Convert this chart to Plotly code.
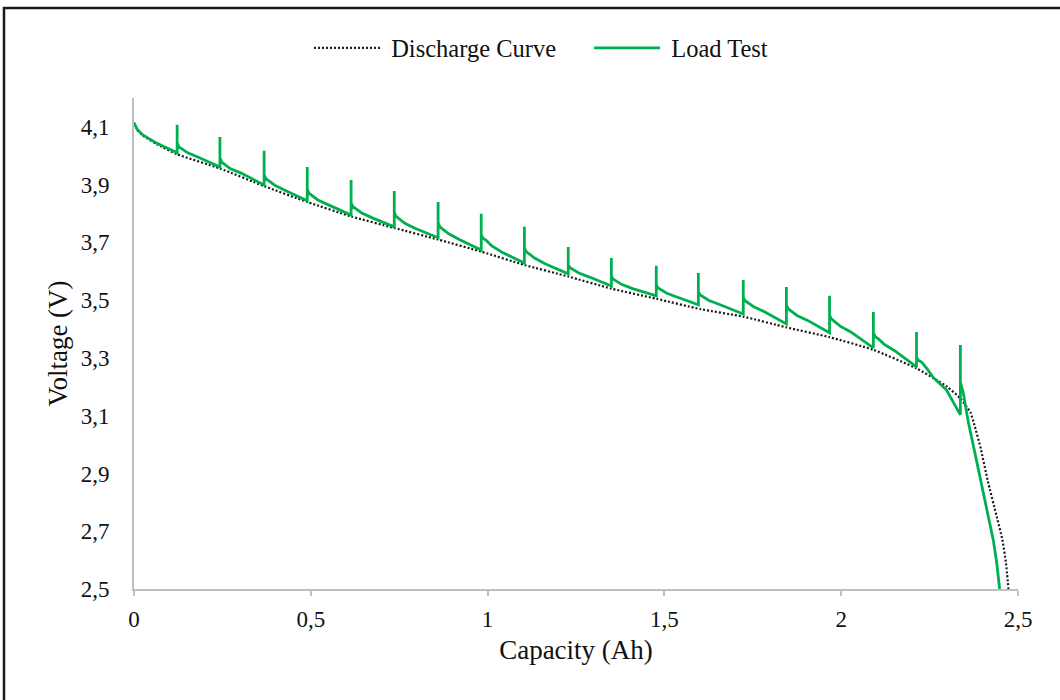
import plotly.graph_objects as go

# ---- data ----
discharge_x = [0.000, 0.010, 0.025, 0.065, 0.122, 0.243, 0.368, 0.490, 0.614, 0.736,
               0.860, 0.982, 1.104, 1.228, 1.350, 1.477, 1.602, 1.723, 1.845, 1.967,
               2.091, 2.213, 2.261, 2.300, 2.337, 2.366, 2.375, 2.395, 2.414, 2.440,
               2.456, 2.466, 2.473]
discharge_v = [4.114, 4.088, 4.070, 4.040, 4.005, 3.956, 3.895, 3.840, 3.790, 3.750,
               3.710, 3.668, 3.622, 3.582, 3.540, 3.505, 3.469, 3.443, 3.406, 3.372,
               3.328, 3.264, 3.230, 3.200, 3.160, 3.110, 3.075, 2.985, 2.877, 2.750,
               2.670, 2.590, 2.500]

# load test: trough, spike peak, relaxed level, then decay points
load_x = [0.000, 0.010, 0.025, 0.065,
          0.122, 0.122, 0.122, 0.127, 0.137, 0.152, 0.182,
          0.243, 0.243, 0.243, 0.248, 0.258, 0.273, 0.303,
          0.368, 0.368, 0.368, 0.373, 0.383, 0.398, 0.428,
          0.490, 0.490, 0.490, 0.495, 0.505, 0.520, 0.550,
          0.614, 0.614, 0.614, 0.619, 0.629, 0.644, 0.674,
          0.736, 0.736, 0.736, 0.741, 0.751, 0.766, 0.796,
          0.860, 0.860, 0.860, 0.865, 0.875, 0.890, 0.920,
          0.982, 0.982, 0.982, 0.987, 0.997, 1.012, 1.042,
          1.104, 1.104, 1.104, 1.109, 1.119, 1.134, 1.164,
          1.228, 1.228, 1.228, 1.233, 1.243, 1.258, 1.288,
          1.350, 1.350, 1.350, 1.355, 1.365, 1.380, 1.410,
          1.477, 1.477, 1.477, 1.482, 1.492, 1.507, 1.537,
          1.596, 1.596, 1.596, 1.601, 1.611, 1.626, 1.656,
          1.723, 1.723, 1.723, 1.728, 1.738, 1.753, 1.783,
          1.845, 1.845, 1.845, 1.850, 1.860, 1.875, 1.905,
          1.967, 1.967, 1.967, 1.972, 1.982, 1.997, 2.027,
          2.091, 2.091, 2.091, 2.096, 2.106, 2.121, 2.151,
          2.213, 2.213, 2.213, 2.218, 2.228, 2.243, 2.261, 2.298, 2.329,
          2.337, 2.337, 2.337, 2.345, 2.360, 2.380, 2.394, 2.410, 2.430, 2.440, 2.448]
load_v = [4.114, 4.090, 4.072, 4.043,
          4.010, 4.107, 4.045, 4.031, 4.022, 4.010, 3.995,
          3.961, 4.065, 3.993, 3.978, 3.968, 3.955, 3.940,
          3.899, 4.017, 3.934, 3.921, 3.912, 3.898, 3.880,
          3.844, 3.961, 3.885, 3.870, 3.860, 3.847, 3.830,
          3.795, 3.916, 3.837, 3.824, 3.815, 3.802, 3.785,
          3.754, 3.878, 3.805, 3.790, 3.780, 3.766, 3.748,
          3.716, 3.840, 3.768, 3.754, 3.745, 3.730, 3.710,
          3.674, 3.799, 3.726, 3.714, 3.706, 3.688, 3.665,
          3.629, 3.754, 3.681, 3.668, 3.660, 3.645, 3.625,
          3.591, 3.684, 3.622, 3.612, 3.605, 3.594, 3.580,
          3.549, 3.646, 3.584, 3.573, 3.565, 3.554, 3.540,
          3.515, 3.619, 3.553, 3.542, 3.535, 3.524, 3.510,
          3.484, 3.594, 3.529, 3.518, 3.510, 3.499, 3.485,
          3.452, 3.570, 3.511, 3.498, 3.490, 3.477, 3.460,
          3.418, 3.546, 3.484, 3.470, 3.460, 3.447, 3.430,
          3.387, 3.515, 3.449, 3.435, 3.425, 3.410, 3.390,
          3.335, 3.459, 3.387, 3.374, 3.365, 3.348, 3.325,
          3.269, 3.390, 3.303, 3.292, 3.285, 3.262, 3.231, 3.189, 3.120,
          3.103, 3.345, 3.217, 3.180, 3.075, 2.960, 2.877, 2.790, 2.670, 2.590, 2.500]

x_ticks = [0, 0.5, 1, 1.5, 2, 2.5]
y_ticks = [2.5, 2.7, 2.9, 3.1, 3.3, 3.5, 3.7, 3.9, 4.1]

FONT = "Liberation Serif, Times New Roman, serif"
TXT = "#111111"

fig = go.Figure()
fig.add_trace(go.Scatter(
    x=discharge_x, y=discharge_v, mode="lines", name="\u00a0Discharge Curve",
    line=dict(color="#1a1a1a", width=2.2, dash="2px,2px", shape="spline", smoothing=0.5),
))
fig.add_trace(go.Scatter(
    x=load_x, y=load_v, mode="lines", name="\u00a0Load Test",
    line=dict(color="#00B050", width=2.8),
))

L, R, T, B = 134, 42, 98, 111
W, H = 1060, 700
pw, ph = W - L - R, H - T - B

fig.update_layout(
    width=W, height=H,
    margin=dict(l=L, r=R, t=T, b=B),
    paper_bgcolor="white", plot_bgcolor="white",
    separators=",.",
    font=dict(family=FONT, size=23, color=TXT),
    showlegend=True,
    legend=dict(
        orientation="h", xref="container", yref="container",
        x=0.5557, xanchor="center", y=1 - 48 / H, yanchor="middle",
        font=dict(family=FONT, size=24.5, color=TXT),
        bgcolor="rgba(0,0,0,0)", itemwidth=66, entrywidth=199,
    ),
    xaxis=dict(
        range=[0, 2.5], tickvals=x_ticks, showgrid=False, zeroline=False,
        showline=True, linecolor="#bfbfbf", linewidth=2,
        ticks="outside", ticklen=5, tickcolor="#bfbfbf", tickwidth=2,
        ticklabelstandoff=3,
        tickfont=dict(family=FONT, size=23, color=TXT),
        title=dict(text="Capacity (Ah)", font=dict(family=FONT, size=27, color=TXT), standoff=10),
    ),
    yaxis=dict(
        range=[2.5, 4.2], tickvals=y_ticks, tickformat=".1f", showgrid=False, zeroline=False,
        showline=True, linecolor="#bfbfbf", linewidth=2,
        ticks="", ticklabelstandoff=18,
        tickfont=dict(family=FONT, size=23, color=TXT),
        title=dict(text="Voltage (V)", font=dict(family=FONT, size=27, color=TXT), standoff=5),
    ),
    shapes=[dict(
        type="rect", xref="paper", yref="paper",
        x0=(4 - L) / pw, x1=(1075 - L) / pw,
        y0=(H - T - 715) / ph, y1=(H - B - 8) / ph,
        line=dict(color="#1a1a1a", width=2.5), fillcolor="rgba(0,0,0,0)", layer="below",
    )],
)

fig.write_html("out.html")
